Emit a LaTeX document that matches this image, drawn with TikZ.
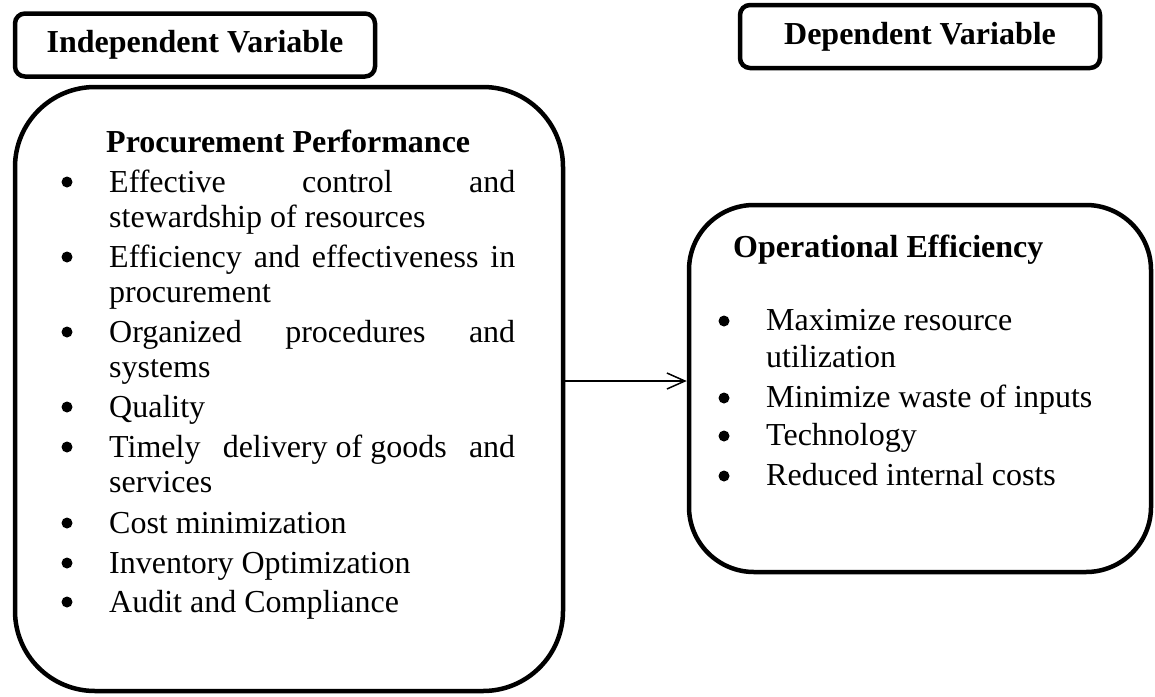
\documentclass[tikz,border=0pt]{standalone}
\usepackage{fontspec}
\setmainfont{Liberation Serif}
\usetikzlibrary{arrows.meta}
\begin{document}
\begin{tikzpicture}[x=1pt,y=-1pt,
  txt/.style={anchor=base west, inner sep=0pt, font=\fontsize{32}{35}\selectfont},
  head/.style={anchor=base west, inner sep=0pt, font=\fontsize{32}{35}\selectfont\bfseries},
  varbox/.style={draw, line width=4.5pt, rounded corners=10pt, inner sep=0pt,
    font=\fontsize{32}{35}\selectfont\bfseries, minimum width=360pt, minimum height=63pt},
  bigbox/.style={draw, line width=4.5pt, inner sep=0pt},
  dot/.style={circle, fill, inner sep=0pt, minimum size=11pt},
  link/.style={line width=1.5pt, -{Straight Barb[length=18pt, width=16pt, line width=1.5pt]}}
]
\useasboundingbox (0,0) rectangle (1155,696);

% variable labels
\node[varbox] (iv) at (195,45) {Independent Variable};
\node[varbox] (dv) at (920,36.5) {Dependent Variable};

% main boxes
\node[bigbox, rounded corners=80pt, minimum width=548pt, minimum height=604pt] (pp) at (289,389) {};
\node[bigbox, rounded corners=65pt, minimum width=462pt, minimum height=367pt] (oe) at (920,388.5) {};

% procurement performance list
\node[head] (pph) at (106,152) {Procurement Performance};
\node[dot] (p1) at (67,182) {};
\node[txt] (p1a) at (109,192) {\makebox[406pt][s]{Effective control and}};
\node[txt] (p1b) at (109,227) {stewardship of resources};
\node[dot] (p2) at (67,257) {};
\node[txt] (p2a) at (109,267) {\makebox[406pt][s]{Efficiency and effectiveness in}};
\node[txt] (p2b) at (109,302) {procurement};
\node[dot] (p3) at (67,332) {};
\node[txt] (p3a) at (109,342) {\makebox[406pt][s]{Organized procedures and}};
\node[txt] (p3b) at (109,377) {systems};
\node[dot] (p4) at (67,407) {};
\node[txt] (p4a) at (109,417) {Quality};
\node[dot] (p5) at (67,447) {};
\node[txt] (p5a) at (109,457) {\makebox[406pt][s]{Timely\hfill\ delivery of goods\hfill\ and}};
\node[txt] (p5b) at (109,492) {services};
\node[dot] (p6) at (67,523) {};
\node[txt] (p6a) at (109,533) {Cost minimization};
\node[dot] (p7) at (67,563) {};
\node[txt] (p7a) at (109,573) {Inventory Optimization};
\node[dot] (p8) at (67,602) {};
\node[txt] (p8a) at (109,612) {Audit and Compliance};

% operational efficiency list
\node[head] (oeh) at (733,257) {Operational Efficiency};
\node[dot] (o1) at (724,321) {};
\node[txt] (o1a) at (766,330) {Maximize resource};
\node[txt] (o1b) at (766,367) {utilization};
\node[dot] (o2) at (724,398) {};
\node[txt] (o2a) at (766,407) {Minimize waste of inputs};
\node[dot] (o3) at (724,436) {};
\node[txt] (o3a) at (766,445) {Technology};
\node[dot] (o4) at (724,476) {};
\node[txt] (o4a) at (766,485) {Reduced internal costs};

% relationship
\coordinate (ay) at (0,381);
\draw[link] (pp.east |- ay) -- (oe.west |- ay);
\end{tikzpicture}
\end{document}
